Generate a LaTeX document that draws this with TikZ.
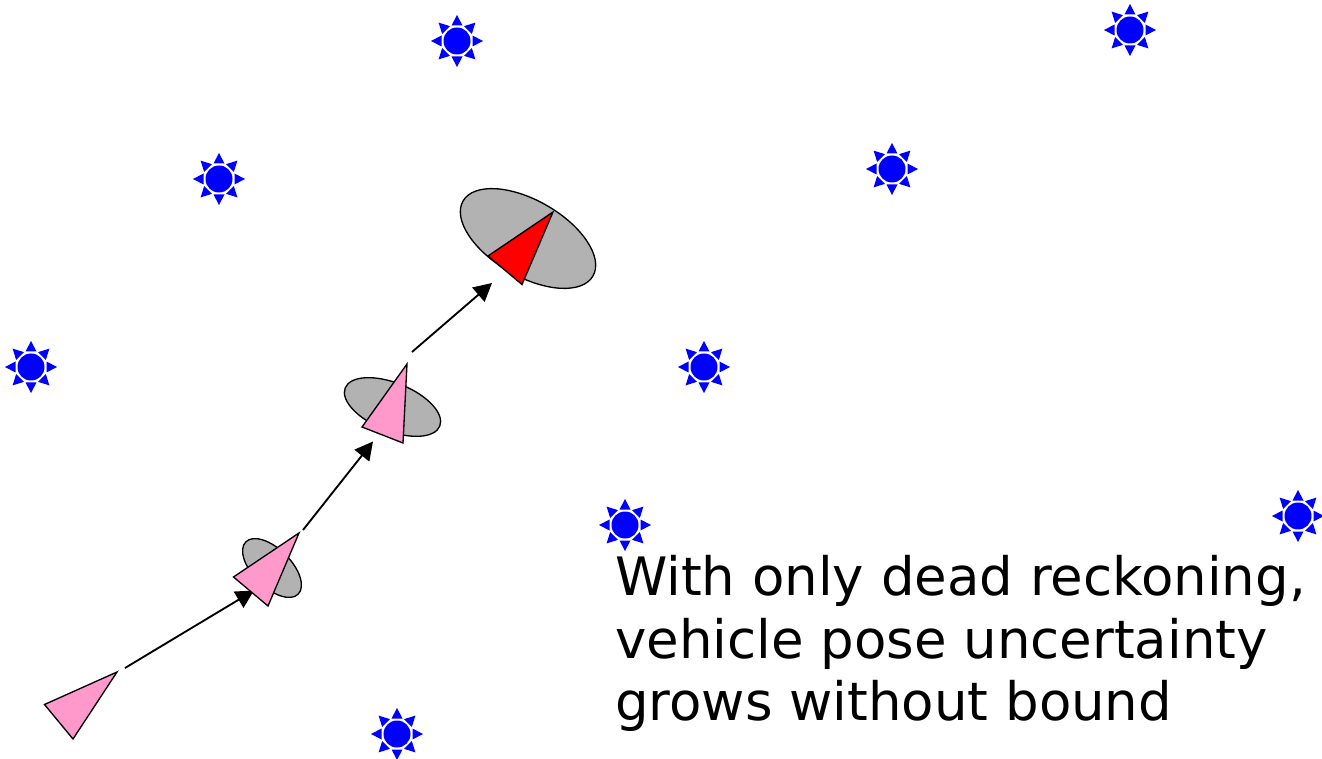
\documentclass[tikz,border=0pt]{standalone}
\usepackage{fontspec}
\setmainfont{DejaVu Sans}
\usetikzlibrary{arrows.meta,shapes.geometric}
\definecolor{pinkfill}{HTML}{FF99CC}
\definecolor{grayfill}{HTML}{B2B2B2}
\tikzset{
  x=0.75pt,y=-0.75pt,
  uncert/.style={ellipse,draw=black,fill=grayfill,line width=1pt,inner sep=0pt},
  vehicle/.style={draw=black,line width=1pt,line join=miter,fill=pinkfill},
  motion/.style={draw=black,line width=1.4pt,-{Triangle[length=13.5pt,width=14pt]},shorten >=0pt},
  beacon/.pic={
    \fill[blue] (0,0) circle[radius=13.5];
    \foreach \a in {0,45,...,315}{
      \fill[blue,rotate=\a] (15.5,-5.5) -- (26,0) -- (15.5,5.5) -- cycle;
    }
  },
  caption/.style={font=\fontsize{39.7}{47}\selectfont,align=left,anchor=north west,inner sep=0pt}
}
\begin{document}
\begin{tikzpicture}
\useasboundingbox (0,0) rectangle (1322,759);
\fill[white] (0,0) rectangle (1322,759);
\foreach \x/\y in {457/41,1130/30,219/179,892/169,31/367,704/367,625/525,1298/516,397/734}{
  \pic at (\x,\y) {beacon};
}
\node[uncert,minimum width=150*0.75pt,minimum height=76*0.75pt,rotate=-30] (e3) at (528,238.5) {};
\node[uncert,minimum width=102*0.75pt,minimum height=48*0.75pt,rotate=-22] (e2) at (392.5,407) {};
\node[uncert,minimum width=74*0.75pt,minimum height=38*0.75pt,rotate=-45] (e1) at (272,568) {};
\coordinate (a0s) at (125,668);
\coordinate (a0e) at (254,590.5);
\coordinate (a1s) at (303,530);
\coordinate (a1e) at (373,441.5);
\coordinate (a2s) at (412,352);
\coordinate (a2e) at (492,283);
\draw[motion] (a0s) -- (a0e);
\draw[motion] (a1s) -- (a1e);
\draw[motion] (a2s) -- (a2e);
\draw[vehicle] (117,672) -- (44.5,704.5) -- (73,739) -- cycle;
\draw[vehicle] (299,533) -- (233.5,577) -- (268,606) -- cycle;
\draw[vehicle] (407,364) -- (362,427) -- (403,443) -- cycle;
\draw[vehicle,fill=red] (553,212) -- (488,256) -- (522,284.5) -- cycle;
\node[caption] (cap) at (615,555) {With only dead reckoning,\\vehicle pose uncertainty\\grows without bound};
\end{tikzpicture}
\end{document}
